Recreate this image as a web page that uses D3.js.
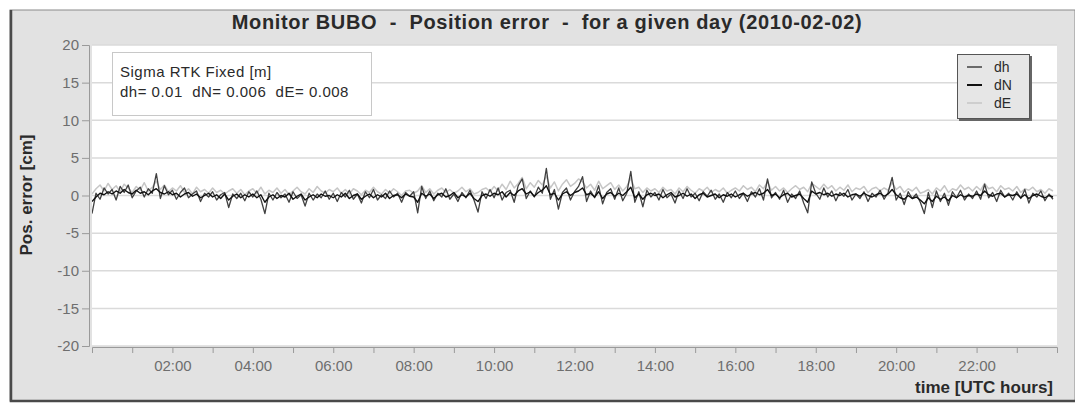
<!DOCTYPE html>
<html lang="en">
<head>
  <meta charset="UTF-8" />
  <title>Monitor BUBO - Position error</title>
  <style>
    body { margin: 0; background: #ffffff; }
    svg { display: block; font-family: "Liberation Sans", Arial, sans-serif; }
    .tick-label { fill: #6e6e6e; font-size: 15px; }
    .pre { white-space: pre; }
  </style>
  <script src="https://d3js.org/d3.v7.min.js"></script>
</head>
<body>
  <svg id="chart" width="1075" height="406"></svg>

  <script>
    // samples every 6 minutes (0.1 h), values in cm
    const sampleStepHours = 0.1;

    const dhValues = [
      -2.4, 0.3, -0.5, 1.0, 0.2, 0.8, -0.6, 1.2, 0.4, 1.4, -0.3, 0.6, 1.1, -0.2, 0.9, 0.3, 2.9, -0.4, 1.3, 0.1,
      0.7, -0.5, 0.4, 1.0, -0.3, 0.2, 0.6, -0.8, 0.3, -0.2, 0.5, -0.6, 0.1, 0.4, -1.6, 0.2, -0.4, 0.3, -0.7, 0.5,
      -0.2, 0.6, -0.5, -2.4, 0.3, -0.6, 0.4, -0.3, 0.2, -0.9, 0.5, -0.4, 0.1, -1.4, 0.3, -0.6, 0.2, -0.3, 0.6, -0.5,
      0.3, -0.8, 0.4, -0.2, 0.7, -0.5, 0.2, -1.0, 0.5, -0.3, 0.8, -0.6, 0.1, -0.4, 0.6, -0.2, 0.3, -0.9, 0.4, -0.1,
      0.5, -2.3, 1.2, -0.4, 0.6, -0.7, 0.3, -0.2, 0.9, -0.5, 0.2, -0.8, 0.4, -0.3, 0.7, -0.6, -2.2, 0.5, -0.4, 0.8,
      -0.3, 1.0, -0.6, 0.4, 0.7, -0.9, 1.3, 2.2, -0.4, 0.6, -0.2, 1.1, 0.3, 3.6, -0.5, 0.8, -1.8, 0.4, 1.0, -0.6,
      0.5, 1.2, 2.5, -0.8, 0.6, -0.3, 1.3, -1.1, 0.4, 0.9, -0.5, 1.0, -0.7, 0.3, 3.2, -0.9, 0.5, -1.5, 0.7, -0.2,
      0.4, -0.6, 0.8, -0.3, 0.2, -1.0, 0.6, -0.4, 0.9, -0.2, 0.3, -0.7, 0.5, -0.1, 0.7, -0.5, 0.2, -0.9, 0.4, -0.3,
      0.6, -0.4, 0.3, -0.8, 0.5, -0.2, 0.9, -0.6, 2.2, -0.3, 0.4, -0.5, 0.7, -0.9, 0.2, -0.4, 0.6, -1.0, -2.3, 1.8,
      0.3, -0.5, 1.0, -0.2, 0.6, -0.7, 0.4, -0.1, 0.8, -0.6, 0.2, -0.4, 0.5, -0.8, 0.3, -0.2, 0.7, -0.5, 0.4, 2.4,
      -0.6, 0.3, -1.2, 0.5, -0.4, 0.2, -0.9, -2.4, 0.4, -1.6, 0.6, -0.8, 0.3, -1.3, 0.5, -0.3, 0.7, -0.6, 0.2, -0.4,
      0.6, -0.5, 1.5, -0.3, 0.4, -0.8, 0.7, -0.2, 0.3, -0.6, 0.5, -0.4, 0.8, -1.0, 0.3, -0.2, 0.6, -0.7, 0.2, -0.5
    ];

    const dNValues = [
      -0.8, -0.2, 0.3, 0.1, 0.5, 0.2, 0.6, 0.3, 0.8, 0.4, 0.2, 0.7, 0.3, 0.5, 0.1, 0.6, 0.9, 0.4, 0.2, 0.5,
      0.1, 0.3, -0.2, 0.2, 0.4, -0.1, 0.2, -0.3, 0.0, 0.3, -0.2, 0.1, -0.4, 0.2, -0.6, -0.1, 0.2, -0.3, 0.1, -0.2,
      0.2, -0.3, 0.1, -0.9, -0.2, 0.1, -0.4, 0.0, -0.2, 0.3, -0.5, -0.1, 0.2, -0.6, -0.2, 0.1, -0.3, 0.2, -0.1, 0.0,
      -0.3, 0.1, -0.2, 0.3, -0.4, 0.0, 0.2, -0.5, -0.1, 0.2, -0.3, 0.1, -0.2, 0.3, -0.4, 0.0, 0.1, -0.3, 0.2, -0.1,
      -0.2, -0.9, 0.3, -0.1, 0.2, -0.4, 0.1, 0.3, -0.2, 0.0, 0.4, -0.3, 0.1, -0.2, 0.3, -0.4, -0.8, 0.0, 0.2, -0.1,
      0.3, 0.1, 0.5, -0.2, 0.4, 0.0, 0.6, 0.9, 0.2, 0.5, -0.1, 0.4, 0.7, 1.3, 0.1, 0.3, -0.6, 0.2, 0.5, 0.0,
      0.4, 0.6, 1.0, 0.1, 0.3, -0.2, 0.5, -0.4, 0.2, 0.4, -0.1, 0.3, 0.0, 0.5, 1.1, -0.3, 0.2, -0.5, 0.1, 0.3,
      0.0, 0.2, -0.3, 0.1, 0.4, -0.2, 0.0, 0.3, -0.1, 0.2, -0.4, 0.1, 0.3, -0.2, 0.0, 0.2, -0.3, 0.1, -0.1, 0.2,
      -0.2, 0.1, 0.3, -0.1, 0.2, 0.4, 0.1, 0.3, 0.8, 0.0, 0.2, -0.3, 0.1, 0.3, -0.2, 0.0, 0.2, -0.4, -0.9, 0.6,
      0.2, 0.4, 0.1, 0.3, -0.1, 0.2, 0.0, 0.3, -0.2, 0.1, 0.2, -0.1, 0.3, 0.0, -0.2, 0.1, 0.3, -0.1, 0.2, 0.8,
      0.1, -0.3, -0.5, 0.0, -0.4, -0.2, -0.6, -1.1, -0.3, -0.8, -0.1, -0.5, -0.2, -0.7, 0.0, -0.3, 0.1, -0.2, 0.0, -0.1,
      0.2, 0.0, 0.6, 0.1, -0.1, 0.2, 0.3, -0.2, 0.1, 0.0, 0.2, -0.3, 0.1, -0.4, 0.0, 0.2, -0.1, -0.3, 0.0, -0.2
    ];

    const dEValues = [
      0.2, 0.9, 1.4, 0.6, 1.6, 0.8, 1.3, 0.5, 1.5, 1.0, 0.4, 1.2, 0.7, 1.7, 0.6, 1.1, 1.9, 0.8, 1.4, 0.5,
      1.0, 0.6, 1.3, 0.4, 0.9, 0.2, 1.1, 0.5, 0.8, 0.3, 1.0, 0.4, 0.7, 0.2, 0.6, 0.9, 0.3, 0.8, 0.1, 0.6,
      0.9, 0.3, 1.1, 0.2, 0.7, 0.4, 1.0, 0.3, 0.8, 0.1, 0.6, 1.1, 0.5, 0.2, 0.9, 0.4, 1.2, 0.6, 0.3, 0.8,
      0.5, 1.0, 0.3, 0.8, 0.2, 0.9, 0.6, 0.1, 0.7, 0.4, 1.1, 0.5, 0.2, 0.8, 0.3, 0.9, 0.5, 0.0, 0.6, 0.7,
      0.3, 0.6, 1.3, 0.4, 0.9, 0.2, 0.7, 1.0, 0.4, 0.8, 0.3, 0.6, 1.1, 0.5, 0.9, 0.2, 0.4, 0.8, 1.0, 0.5,
      1.2, 0.6, 1.5, 0.8, 1.9, 1.0, 1.6, 2.4, 0.9, 1.7, 1.1, 2.0, 1.4, 2.6, 1.0, 1.8, 0.6, 1.5, 2.1, 1.2,
      1.6, 2.2, 1.8, 1.0, 1.5, 0.7, 1.9, 0.9, 1.3, 1.7, 0.8, 1.4, 0.6, 1.2, 2.3, 0.9, 1.1, 0.4, 1.0, 0.6,
      0.9, 0.4, 1.1, 0.6, 0.8, 0.2, 1.0, 0.5, 1.2, 0.7, 0.3, 0.9, 0.6, 1.1, 0.4, 0.8, 0.5, 1.0, 0.3, 0.7,
      1.0, 0.6, 1.3, 0.8, 1.1, 0.5, 1.4, 0.9, 1.8, 0.7, 1.2, 0.6, 1.0, 0.4, 0.9, 1.3, 0.8, 1.1, 0.5, 1.6,
      1.2, 0.8, 1.5, 0.9, 1.3, 0.6, 1.1, 0.7, 1.4, 0.5, 1.0, 0.8, 1.2, 0.4, 0.9, 1.1, 0.6, 1.0, 0.7, 1.7,
      0.8, 1.2, 0.4, 0.9, 0.6, 1.1, 0.3, 0.5, 0.8, 0.2, 1.0, 0.6, 1.3, 0.4, 0.9, 0.7, 1.4, 0.8, 1.1, 0.6,
      1.2, 0.7, 1.6, 0.9, 1.1, 0.5, 1.3, 0.8, 1.0, 0.6, 1.2, 0.4, 0.9, 0.7, 1.1, 0.5, 0.8, 0.3, 0.9, 0.6
    ];

    const yTickValues = [-20, -15, -10, -5, 0, 5, 10, 15, 20];
    const xTickHours = [2, 4, 6, 8, 10, 12, 14, 16, 18, 20, 22];
    const xTickLabels = ["02:00", "04:00", "06:00", "08:00", "10:00", "12:00", "14:00", "16:00", "18:00", "20:00", "22:00"];
    const legendNames = ["dh", "dN", "dE"];
    const sigmaLines = ["Sigma RTK Fixed [m]", "dh= 0.01  dN= 0.006  dE= 0.008"];

    const seriesStyle = {
      dE: { color: "#c6c6c6", width: 1.5 },
      dh: { color: "#404040", width: 1.3 },
      dN: { color: "#111111", width: 1.4 }
    };
    const series = [
      { name: "dE", values: dEValues },
      { name: "dh", values: dhValues },
      { name: "dN", values: dNValues }
    ];

    const svg = d3.select("#chart");
    const W = 1075;
    const plot = { left: 92, right: 1057, top: 45, bottom: 346 };

    // outer panel
    svg.append("rect")
      .attr("x", 10).attr("y", 10)
      .attr("width", W - 10).attr("height", 391)
      .attr("fill", "#e2e2e2")
      .attr("stroke", "#8a8a8a").attr("stroke-width", 1);
    // darker left / bottom edge
    svg.append("path")
      .attr("d", `M11,10 L11,401 L${W},401`)
      .attr("fill", "none").attr("stroke", "#4a4a4a").attr("stroke-width", 2.5);

    const x = d3.scaleLinear().domain([0, 24]).range([plot.left, plot.right]);
    const y = d3.scaleLinear().domain([-20, 20]).range([plot.bottom, plot.top]);

    svg.append("rect")
      .attr("x", plot.left).attr("y", plot.top)
      .attr("width", plot.right - plot.left).attr("height", plot.bottom - plot.top)
      .attr("fill", "#ffffff");

    // horizontal grid
    svg.append("g")
      .selectAll("line")
      .data(yTickValues)
      .join("line")
      .attr("x1", plot.left).attr("x2", plot.right)
      .attr("y1", d => y(d)).attr("y2", d => y(d))
      .attr("stroke", "#dadada").attr("stroke-width", 1.5);

    // y axis (plain hyphen for negatives, like the original)
    const yAxis = svg.append("g").attr("transform", `translate(${plot.left - 3},0)`);
    yAxis.call(d3.axisLeft(y).tickValues(d3.range(-20, 21, 1)).tickSize(3).tickFormat(""));
    yAxis.call(d3.axisLeft(y).tickValues(yTickValues).tickSize(7).tickPadding(3).tickFormat(d => String(d)));
    yAxis.selectAll("path, line").attr("stroke", "#9a9a9a");
    yAxis.selectAll("text").attr("class", "tick-label").attr("font-family", null).attr("font-size", null);

    // x axis
    const xAxis = svg.append("g").attr("transform", `translate(0,${plot.bottom + 1})`);
    xAxis.call(d3.axisBottom(x).tickValues(d3.range(0.5, 24, 1)).tickSize(3).tickFormat(""));
    xAxis.call(d3.axisBottom(x).tickValues(d3.range(1, 24, 1)).tickSize(6).tickFormat(""));
    xAxis.selectAll("path, line").attr("stroke", "#9a9a9a");
    const xLabels = svg.append("g").attr("transform", `translate(0,${plot.bottom + 1})`);
    xLabels.call(d3.axisBottom(x).tickValues(xTickHours).tickSize(0).tickPadding(13)
      .tickFormat((d, i) => xTickLabels[i]));
    xLabels.select(".domain").remove();
    xLabels.selectAll("text").attr("class", "tick-label").attr("font-family", null).attr("font-size", null);

    // series
    const line = d3.line()
      .x((d, i) => x(i * sampleStepHours))
      .y(d => y(d));
    const clipId = "plot-clip";
    svg.append("clipPath").attr("id", clipId).append("rect")
      .attr("x", plot.left).attr("y", plot.top)
      .attr("width", plot.right - plot.left).attr("height", plot.bottom - plot.top);
    svg.append("g").attr("clip-path", `url(#${clipId})`)
      .selectAll("path")
      .data(series)
      .join("path")
      .attr("d", d => line(d.values))
      .attr("fill", "none")
      .attr("stroke", d => seriesStyle[d.name].color)
      .attr("stroke-width", d => seriesStyle[d.name].width)
      .attr("stroke-linejoin", "round");

    // title
    svg.append("text")
      .attr("x", 547).attr("y", 29)
      .attr("text-anchor", "middle")
      .attr("class", "pre")
      .attr("font-size", 20).attr("font-weight", "bold").attr("fill", "#2a2a2a")
      .attr("letter-spacing", 0.65)
      .text("Monitor BUBO  -  Position error  -  for a given day (2010-02-02)");

    // axis titles
    svg.append("text")
      .attr("transform", `translate(32,195) rotate(-90)`)
      .attr("text-anchor", "middle")
      .attr("font-size", 17).attr("font-weight", "bold").attr("fill", "#2a2a2a")
      .text("Pos. error [cm]");
    svg.append("text")
      .attr("x", 1053).attr("y", 393)
      .attr("text-anchor", "end")
      .attr("font-size", 17).attr("font-weight", "bold").attr("fill", "#2a2a2a")
      .text("time [UTC hours]");

    // sigma box
    svg.append("rect")
      .attr("x", 112.5).attr("y", 52.5).attr("width", 259).attr("height", 63)
      .attr("fill", "#ffffff").attr("stroke", "#c8c8c8");
    svg.append("g")
      .selectAll("text")
      .data(sigmaLines)
      .join("text")
      .attr("class", "pre")
      .attr("x", 120).attr("y", (d, i) => 77 + i * 20)
      .attr("font-size", 15).attr("fill", "#2a2a2a")
      .attr("letter-spacing", 0.5)
      .text(d => d);

    // legend
    const legend = svg.append("g").attr("transform", "translate(957,54)");
    legend.append("rect")
      .attr("x", 2).attr("y", 2).attr("width", 73).attr("height", 65)
      .attr("fill", "#666666");
    legend.append("rect")
      .attr("x", 0.5).attr("y", 0.5).attr("width", 72).attr("height", 64)
      .attr("fill", "#e6e6e6").attr("stroke", "#555555");
    const legendRows = legend.selectAll("g.row")
      .data(legendNames)
      .join("g")
      .attr("class", "row")
      .attr("transform", (d, i) => `translate(0,${13 + i * 18})`);
    legendRows.append("line")
      .attr("x1", 10).attr("x2", 25)
      .attr("stroke", d => seriesStyle[d].color)
      .attr("stroke-width", d => d === "dN" ? 2 : 1.5);
    legendRows.append("text")
      .attr("x", 37).attr("y", 5)
      .attr("font-size", 14).attr("fill", "#2a2a2a")
      .text(d => d);
  </script>
</body>
</html>
